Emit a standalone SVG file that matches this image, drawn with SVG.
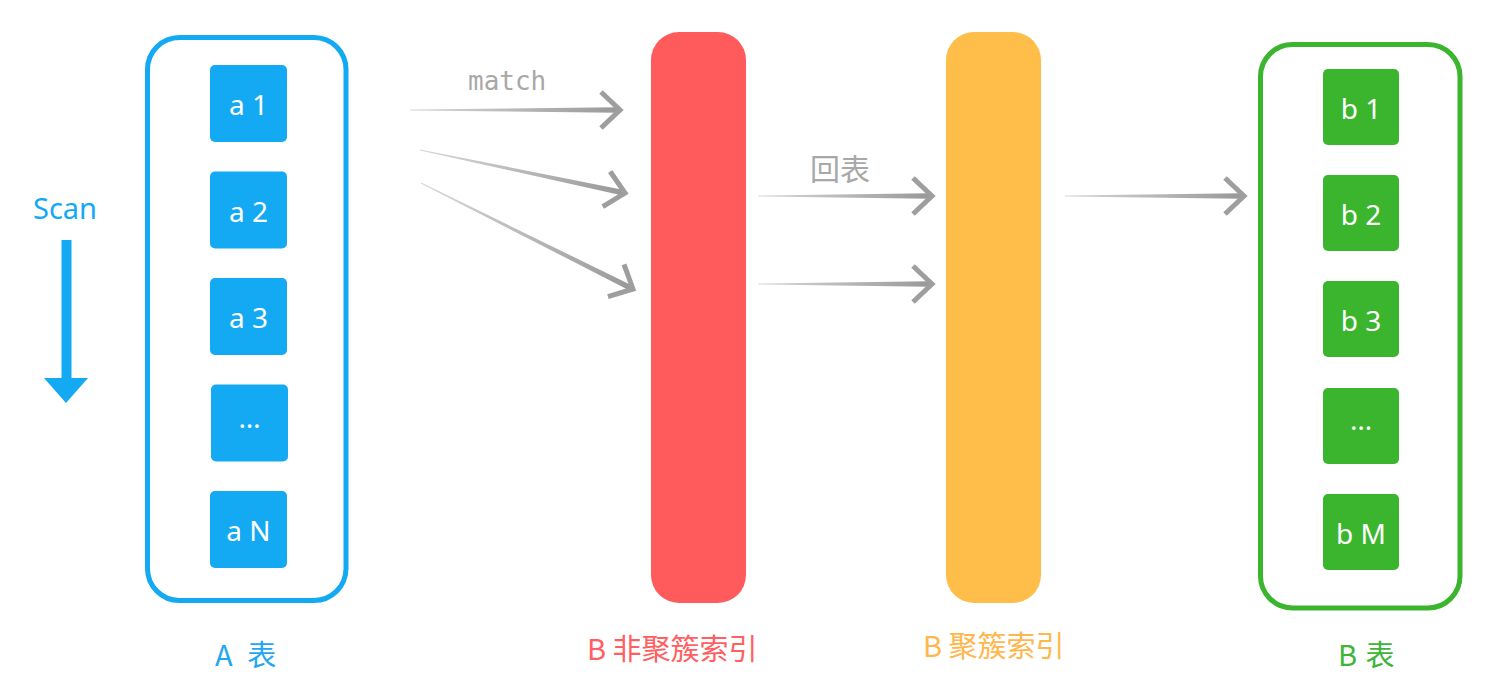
<svg xmlns="http://www.w3.org/2000/svg" xmlns:xlink="http://www.w3.org/1999/xlink" width="1500" height="692" viewBox="0 0 1500 692">
<style>
.box-a{fill:#14A9F3}
.box-b{fill:#3BB52E}
.bt{font-family:"Noto Sans","Liberation Sans",sans-serif;font-size:28px;fill:#ffffff;text-anchor:middle}
.lbl{font-family:"Noto Sans CJK SC","Noto Sans",sans-serif;font-size:29px}
.gray{fill:#A8A8A8}
.head{fill:none;stroke:#9E9E9E;stroke-width:5;stroke-linejoin:miter;stroke-linecap:butt}
.shaft{fill:url(#shaftGrad)}
</style>
<defs>
<linearGradient id="shaftGrad" x1="0" y1="0" x2="1" y2="0">
<stop offset="0" stop-color="#D8D8D8"/>
<stop offset="1" stop-color="#999999"/>
</linearGradient>
<polyline id="ah" class="head" points="-19,-18 0,0 -19,18"/>
</defs>
<rect width="1500" height="692" fill="#ffffff"/>

<g id="scan">
<text x="33" y="219" font-family="Noto Sans, Liberation Sans, sans-serif" font-size="29" fill="#14A9F3">Scan</text>
<rect x="61.5" y="240" width="10" height="140" fill="#14A9F3"/>
<polygon points="44,378 88,378 66,403" fill="#14A9F3"/>
</g>

<g id="tableA">
<rect x="147.5" y="37.5" width="198.5" height="563" rx="32" fill="none" stroke="#14A9F3" stroke-width="5"/>
<rect class="box-a" x="210" y="65" width="77" height="77" rx="5"/>
<text class="bt" x="248.5" y="115">a 1</text>
<rect class="box-a" x="210" y="171.5" width="77" height="77" rx="5"/>
<text class="bt" x="248.5" y="221.5">a 2</text>
<rect class="box-a" x="210" y="278" width="77" height="77" rx="5"/>
<text class="bt" x="248.5" y="328">a 3</text>
<rect class="box-a" x="211" y="384.5" width="77" height="77" rx="5"/>
<text class="bt" x="249.5" y="428">…</text>
<rect class="box-a" x="210" y="491" width="77" height="77" rx="5"/>
<text class="bt" x="248.5" y="541">a N</text>
<text class="lbl" x="215" y="665.5" fill="#1FA7F2" word-spacing="8">A 表</text>
</g>

<g id="nonClusteredIndex">
<rect x="651" y="32" width="95" height="571" rx="28" fill="#FF5B5C"/>
<text class="lbl" x="587" y="660" fill="#FF5F62">B 非聚簇索引</text>
</g>

<g id="clusteredIndex">
<rect x="946" y="32" width="95" height="571" rx="28" fill="#FFBD4A"/>
<text class="lbl" x="923" y="657" fill="#FFB74D">B 聚簇索引</text>
</g>

<g id="tableB">
<rect x="1260.5" y="44.5" width="199.5" height="563.5" rx="32" fill="none" stroke="#3BB52E" stroke-width="5"/>
<rect class="box-b" x="1323" y="69" width="76" height="76" rx="5"/>
<text class="bt" x="1361" y="119">b 1</text>
<rect class="box-b" x="1323" y="175" width="76" height="76" rx="5"/>
<text class="bt" x="1361" y="225">b 2</text>
<rect class="box-b" x="1323" y="281" width="76" height="76" rx="5"/>
<text class="bt" x="1361" y="331">b 3</text>
<rect class="box-b" x="1323" y="388" width="76" height="76" rx="5"/>
<text class="bt" x="1361" y="430">…</text>
<rect class="box-b" x="1323" y="494" width="76" height="76" rx="5"/>
<text class="bt" x="1361" y="544">b M</text>
<text class="lbl" x="1338" y="665.5" fill="#3DB43A" word-spacing="2">B 表</text>
</g>

<g id="connectors">
<text x="468" y="90" font-family="DejaVu Sans Mono, Liberation Mono, monospace" font-size="26" class="gray">match</text>
<text x="810" y="180" font-family="Noto Sans CJK SC, Noto Sans, sans-serif" font-size="30" class="gray">回表</text>
<g transform="translate(410,110)">
<polygon class="shaft" points="0,-0.5 207,-2.8 207,2.8 0,0.5"/>
<use xlink:href="#ah" x="210" y="0"/>
</g>
<g transform="translate(420,150) rotate(11.85)">
<polygon class="shaft" points="0,-0.5 206.5,-2.8 206.5,2.8 0,0.5"/>
<use xlink:href="#ah" x="209.5" y="0"/>
</g>
<g transform="translate(421,183) rotate(26.57)">
<polygon class="shaft" points="0,-0.5 234,-2.8 234,2.8 0,0.5"/>
<use xlink:href="#ah" x="237" y="0"/>
</g>
<g transform="translate(758,196)">
<polygon class="shaft" points="0,-0.5 171,-2.8 171,2.8 0,0.5"/>
<use xlink:href="#ah" x="174" y="0"/>
</g>
<g transform="translate(758,284)">
<polygon class="shaft" points="0,-0.5 171,-2.8 171,2.8 0,0.5"/>
<use xlink:href="#ah" x="174" y="0"/>
</g>
<g transform="translate(1065,196)">
<polygon class="shaft" points="0,-0.5 176,-2.8 176,2.8 0,0.5"/>
<use xlink:href="#ah" x="179" y="0"/>
</g>
</g>
</svg>
